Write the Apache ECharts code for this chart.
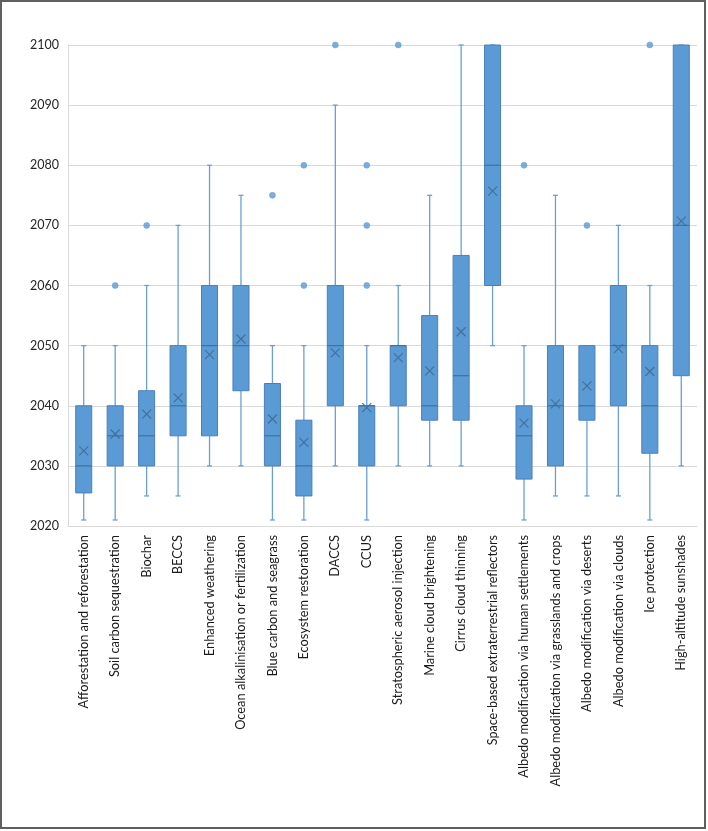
<!DOCTYPE html>
<html>
<head>
<meta charset="utf-8">
<script src="https://cdn.jsdelivr.net/npm/echarts@6/dist/echarts.min.js"></script>
<style>
html,body{margin:0;padding:0;background:#fff;}
#chart{width:708px;height:831px;}
</style>
</head>
<body>
<div id="chart"></div>
<script>
const categories = [
  "Afforestation and reforestation",
  "Soil carbon sequestration",
  "Biochar",
  "BECCS",
  "Enhanced weathering",
  "Ocean alkalinisation or fertilization",
  "Blue carbon and seagrass",
  "Ecosystem restoration",
  "DACCS",
  "CCUS",
  "Stratospheric aerosol injection",
  "Marine cloud brightening",
  "Cirrus cloud thinning",
  "Space-based extraterrestrial reflectors",
  "Albedo modification via human settlements",
  "Albedo modification via grasslands and crops",
  "Albedo modification via deserts",
  "Albedo modification via clouds",
  "Ice protection",
  "High-altitude sunshades"
];
const whiskerLow  = [2021, 2021, 2025, 2025, 2030, 2030, 2021, 2021, 2030, 2021, 2030, 2030, 2030, 2050, 2021, 2025, 2025, 2025, 2021, 2030];
const q1          = [2025.5, 2030, 2030, 2035, 2035, 2042.5, 2030, 2025, 2040, 2030, 2040, 2037.6, 2037.6, 2060, 2027.8, 2030, 2037.6, 2040, 2032.1, 2045];
const medians     = [2030, 2035, 2035, 2040, 2050, 2050, 2035, 2030, 2050, 2040, 2050, 2040, 2045, 2080, 2035, 2040, 2040, 2050, 2040, 2070];
const q3          = [2040, 2040, 2042.5, 2050, 2060, 2060, 2043.7, 2037.6, 2060, 2040, 2050, 2055, 2065, 2100, 2040, 2050, 2050, 2060, 2050, 2100];
const whiskerHigh = [2050, 2050, 2060, 2070, 2080, 2075, 2050, 2050, 2090, 2050, 2060, 2075, 2100, 2100, 2050, 2075, 2050, 2070, 2060, 2100];
const means       = [2032.5, 2035.3, 2038.6, 2041.3, 2048.5, 2051.1, 2037.8, 2033.9, 2048.8, 2039.7, 2048, 2045.8, 2052.3, 2075.7, 2037.1, 2040.3, 2043.3, 2049.5, 2045.7, 2070.7];
const outlierCategory = [1, 2, 6, 7, 7, 8, 9, 9, 9, 10, 14, 16, 18];
const outlierValue    = [2060, 2070, 2075, 2060, 2080, 2100, 2060, 2070, 2080, 2100, 2080, 2070, 2100];
const yTicks = { min: 2020, max: 2100, interval: 10 };

const boxData = categories.map((c, i) => [i, whiskerLow[i], q1[i], medians[i], q3[i], whiskerHigh[i], means[i]]);
const outlierData = outlierCategory.map((c, k) => [c, outlierValue[k]]);

const FILL = '#5B9BD5', EDGE = '#4A7EBB', WHISK = '#6A9FD6', MEANC = '#41719C';

function renderBox(params, api) {
  const i = api.value(0);
  const pLow = api.coord([i, api.value(1)]);
  const pQ1 = api.coord([i, api.value(2)]);
  const pMed = api.coord([i, api.value(3)]);
  const pQ3 = api.coord([i, api.value(4)]);
  const pHigh = api.coord([i, api.value(5)]);
  const pMean = api.coord([i, api.value(6)]);
  const bw = api.size([1, 0])[0] * 0.51;
  const x = pQ1[0];
  const cap = 2.5;
  const m = 4.5;
  const ls = { stroke: WHISK, lineWidth: 1.3 };
  return {
    type: 'group',
    children: [
      { type: 'line', shape: { x1: x, y1: pLow[1], x2: x, y2: pQ1[1] }, style: ls },
      { type: 'line', shape: { x1: x, y1: pQ3[1], x2: x, y2: pHigh[1] }, style: ls },
      { type: 'line', shape: { x1: x - cap, y1: pLow[1], x2: x + cap, y2: pLow[1] }, style: ls },
      { type: 'line', shape: { x1: x - cap, y1: pHigh[1], x2: x + cap, y2: pHigh[1] }, style: ls },
      { type: 'rect', shape: { x: x - bw / 2, y: pQ3[1], width: bw, height: pQ1[1] - pQ3[1] },
        style: { fill: FILL, stroke: EDGE, lineWidth: 1 } },
      { type: 'line', shape: { x1: x - bw / 2, y1: pMed[1], x2: x + bw / 2, y2: pMed[1] },
        style: { stroke: MEANC, lineWidth: 1.2 } },
      { type: 'line', shape: { x1: x - m, y1: pMean[1] - m, x2: x + m, y2: pMean[1] + m },
        style: { stroke: MEANC, lineWidth: 1.2 } },
      { type: 'line', shape: { x1: x - m, y1: pMean[1] + m, x2: x + m, y2: pMean[1] - m },
        style: { stroke: MEANC, lineWidth: 1.2 } }
    ]
  };
}

const chart = echarts.init(document.getElementById('chart'), null, { renderer: 'canvas' });
chart.setOption({
  animation: false,
  backgroundColor: '#ffffff',
  grid: { left: 68, right: 11, top: 45, bottom: 305, containLabel: false },
  xAxis: {
    type: 'category',
    data: categories,
    boundaryGap: true,
    axisLine: { show: true, lineStyle: { color: '#D9D9D9', width: 1 } },
    axisTick: { show: false },
    axisLabel: {
      interval: 0,
      rotate: 90,
      margin: 9,
      color: '#1a1a1a',
      fontFamily: 'Lato',
      fontSize: 12.8,
      formatter: function (v) {
        return v.indexOf('Space-based') === 0 ? '{s|' + v + '}' : v;
      },
      rich: { s: { fontFamily: 'Lato', fontSize: 12.6, color: '#1a1a1a' } }
    },
    splitLine: { show: false }
  },
  yAxis: {
    type: 'value',
    min: yTicks.min,
    max: yTicks.max,
    interval: yTicks.interval,
    axisLine: { show: true, lineStyle: { color: '#D9D9D9', width: 1 } },
    axisTick: { show: false },
    axisLabel: { color: '#262626', fontFamily: 'Lato', fontSize: 12.5, margin: 9,
      formatter: function (v) { return String(v); } },
    splitLine: { show: true, lineStyle: { color: '#D9D9D9', width: 1 } }
  },
  graphic: [
    { type: 'rect', shape: { x: 1, y: 1, width: 704, height: 827 },
      style: { fill: 'none', stroke: '#5F5F5F', lineWidth: 2 }, silent: true, z: 100 }
  ],
  series: [
    {
      type: 'custom',
      renderItem: renderBox,
      data: boxData,
      encode: { x: 0, y: [1, 2, 3, 4, 5, 6] },
      clip: false,
      z: 2
    },
    {
      type: 'scatter',
      data: outlierData,
      symbol: 'circle',
      symbolSize: 6,
      itemStyle: { color: FILL, borderColor: '#4E8FCF', borderWidth: 0.5 },
      z: 3
    }
  ]
});
</script>
</body>
</html>
